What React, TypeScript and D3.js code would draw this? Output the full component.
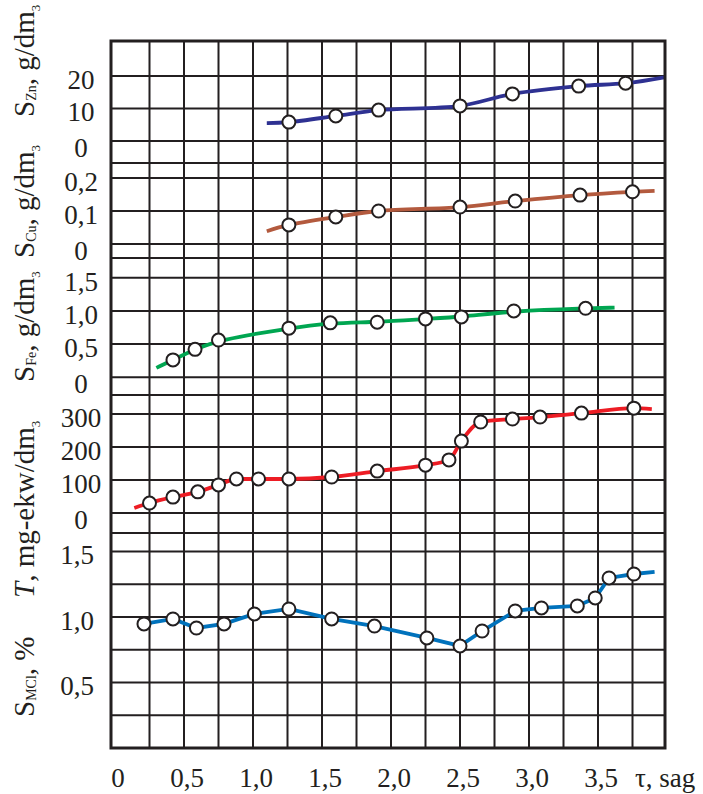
import React from "react";
import * as d3 from "d3";

// time axis, tau in hours
const tauTicks = [0, 0.5, 1.0, 1.5, 2.0, 2.5, 3.0, 3.5];
const tauTickLabels = ["0", "0,5", "1,0", "1,5", "2,0", "2,5", "3,0", "3,5"];
const tauGrid = [0.25, 0.5, 0.75, 1.0, 1.25, 1.5, 1.75, 2.0, 2.25, 2.5, 2.75, 3.0, 3.25, 3.5, 3.75];

// S_Zn, g/dm3
const znTau = [1.26, 1.6, 1.91, 2.5, 2.88, 3.36, 3.7];
const znVal = [5.8, 7.7, 9.5, 10.8, 14.5, 16.9, 17.8];
const znHead = [1.1, 5.5];
const znTail = [3.99, 19.7];
const znTicks = [0, 10, 20];
const znTickLabels = ["0", "10", "20"];

// S_Cu, g/dm3
const cuTau = [1.26, 1.6, 1.91, 2.5, 2.9, 3.37, 3.75];
const cuVal = [0.058, 0.082, 0.1, 0.112, 0.13, 0.148, 0.158];
const cuHead = [1.1, 0.039];
const cuTail = [3.91, 0.161];
const cuTicks = [0, 0.1, 0.2];
const cuTickLabels = ["0", "0,1", "0,2"];

// S_Fe, g/dm3
const feTau = [0.42, 0.58, 0.75, 1.26, 1.56, 1.9, 2.25, 2.51, 2.89, 3.41];
const feVal = [0.26, 0.42, 0.56, 0.74, 0.82, 0.83, 0.88, 0.91, 1.0, 1.04];
const feHead = [0.3, 0.14];
const feTail = [3.62, 1.05];
const feTicks = [0, 0.5, 1.0, 1.5];
const feTickLabels = ["0", "0,5", "1,0", "1,5"];

// T, mg-ekw/dm3
const tTau = [0.25, 0.42, 0.6, 0.75, 0.88, 1.04, 1.26, 1.57, 1.9, 2.25, 2.42, 2.51, 2.65, 2.88, 3.08, 3.38, 3.76];
const tVal = [30, 48, 64, 85, 103, 103, 103, 109, 127, 145, 161, 218, 276, 285, 291, 303, 318];
const tHead = [0.14, 15];
const tTail = [3.89, 315];
const tTicks = [0, 100, 200, 300];
const tTickLabels = ["0", "100", "200", "300"];

// S_MCl, %
const mclTau = [0.21, 0.42, 0.59, 0.79, 1.01, 1.26, 1.57, 1.88, 2.26, 2.5, 2.66, 2.9, 3.09, 3.35, 3.48, 3.58, 3.76];
const mclVal = [0.947, 0.985, 0.916, 0.947, 1.023, 1.061, 0.985, 0.931, 0.84, 0.779, 0.893, 1.046, 1.069, 1.084, 1.145, 1.298, 1.328];
const mclHead = null;
const mclTail = [3.91, 1.344];
const mclTicks = [0.5, 1.0, 1.5];
const mclTickLabels = ["0,5", "1,0", "1,5"];
const mclGrid = [0.25, 0.5, 0.75, 1.0, 1.25, 1.5];

const W = 703;
const H = 794;
const LEFT = 111;
const RIGHT = 665;
const TOP = 41;
const BOTTOM = 748;
const INK = "#231f20";
const FONT = "'Liberation Serif', 'Times New Roman', serif";

const x = d3.scaleLinear().domain([0, 4]).range([115, 667]);
const smooth = d3.curveCatmullRom.alpha(0.5);

const panels = [
  { key: "zn", band: [163, TOP], domain: [-6.8, 30.8], ticks: znTicks, labels: znTickLabels, grid: znTicks, color: "#2e3192", tau: znTau, val: znVal, head: znHead, tail: znTail, curve: smooth, lx: 81 },
  { key: "cu", band: [258, 163], domain: [-0.042, 0.245], ticks: cuTicks, labels: cuTickLabels, grid: cuTicks, color: "#b35a3e", tau: cuTau, val: cuVal, head: cuHead, tail: cuTail, curve: smooth, lx: 81 },
  { key: "fe", band: [395, 258], domain: [-0.27, 1.8], ticks: feTicks, labels: feTickLabels, grid: feTicks, color: "#00a651", tau: feTau, val: feVal, head: feHead, tail: feTail, curve: d3.curveBasis, lx: 81 },
  { key: "t", band: [533, 395], domain: [-61, 358], ticks: tTicks, labels: tTickLabels, grid: tTicks, color: "#ed1c24", tau: tTau, val: tVal, head: tHead, tail: tTail, curve: d3.curveMonotoneX, lx: 81 },
  { key: "mcl", band: [BOTTOM, 533], domain: [0, 1.641], ticks: mclTicks, labels: mclTickLabels, grid: mclGrid, color: "#0072bc", tau: mclTau, val: mclVal, head: mclHead, tail: mclTail, curve: d3.curveLinear, lx: 77 },
];

// rotated axis titles: screen y where the text starts, and its pieces
const titles = [
  { y: 117, main: "S", sub: "Zn", rest: ", g/dm", sup: "3", italic: false },
  { y: 258, main: "S", sub: "Cu", rest: ", g/dm", sup: "3", italic: false },
  { y: 382, main: "S", sub: "Fe", rest: ", g/dm", sup: "3", italic: false },
  { y: 598, main: "T", sub: "", rest: ", mg-ekw/dm", sup: "3", italic: true },
  { y: 717, main: "S", sub: "MCl", rest: ", %", sup: "", italic: false },
];

const Panel = ({ p }) => {
  const y = d3.scaleLinear().domain(p.domain).range(p.band);
  const pts = p.tau.map((t, i) => [t, p.val[i]]);
  const linePts = [...(p.head ? [p.head] : []), ...pts, ...(p.tail ? [p.tail] : [])];
  const line = d3
    .line()
    .x((d) => x(d[0]))
    .y((d) => y(d[1]))
    .curve(p.curve);
  return (
    <g>
      {p.grid.map((v) => (
        <line key={"g" + v} x1={LEFT} x2={RIGHT} y1={y(v)} y2={y(v)} stroke={INK} strokeWidth={2} />
      ))}
      <line x1={LEFT} x2={RIGHT} y1={p.band[0]} y2={p.band[0]} stroke={INK} strokeWidth={2} />
      {p.ticks.map((v, i) => (
        <text
          key={"t" + v}
          x={p.lx}
          y={y(v) + (v === 0 ? 16 : 13)}
          textAnchor="middle"
          fontFamily={FONT}
          fontSize={27}
          fill={INK}
        >
          {p.labels[i]}
        </text>
      ))}
      <path d={line(linePts)} fill="none" stroke={p.color} strokeWidth={3.8} />
      {pts.map((d, i) => (
        <circle key={"c" + i} cx={x(d[0])} cy={y(d[1])} r={6.5} fill="#fff" stroke={INK} strokeWidth={2} />
      ))}
    </g>
  );
};

export default function App() {
  return (
    <svg width={W} height={H} style={{ position: "absolute", left: 0, top: 0, background: "#fff" }}>
      <rect width={W} height={H} fill="#fff" />
      {tauGrid.map((v) => (
        <line key={v} x1={x(v)} x2={x(v)} y1={TOP} y2={BOTTOM} stroke={INK} strokeWidth={2} />
      ))}
      {panels.map((p) => (
        <Panel key={p.key} p={p} />
      ))}
      <rect x={LEFT} y={TOP} width={RIGHT - LEFT} height={BOTTOM - TOP} fill="none" stroke={INK} strokeWidth={3} />
      {tauTicks.map((v, i) => (
        <text key={v} x={x(v) + 3} y={787} textAnchor="middle" fontFamily={FONT} fontSize={27} fill={INK}>
          {tauTickLabels[i]}
        </text>
      ))}
      <text x={635} y={787} fontFamily={FONT} fontSize={27} fill={INK}>
        τ, sag
      </text>
      {titles.map((t) => (
        <text key={t.y} transform={`translate(34,${t.y}) rotate(-90)`} fontFamily={FONT} fontSize={29} fill={INK}>
          <tspan fontStyle={t.italic ? "italic" : "normal"}>{t.main}</tspan>
          {t.sub && (
            <tspan fontSize={14} dy={2}>
              {t.sub}
            </tspan>
          )}
          <tspan dy={t.sub ? -2 : 0}>{t.rest}</tspan>
          {t.sup && (
            <tspan fontSize={13} dy={6}>
              {t.sup}
            </tspan>
          )}
        </text>
      ))}
    </svg>
  );
}
